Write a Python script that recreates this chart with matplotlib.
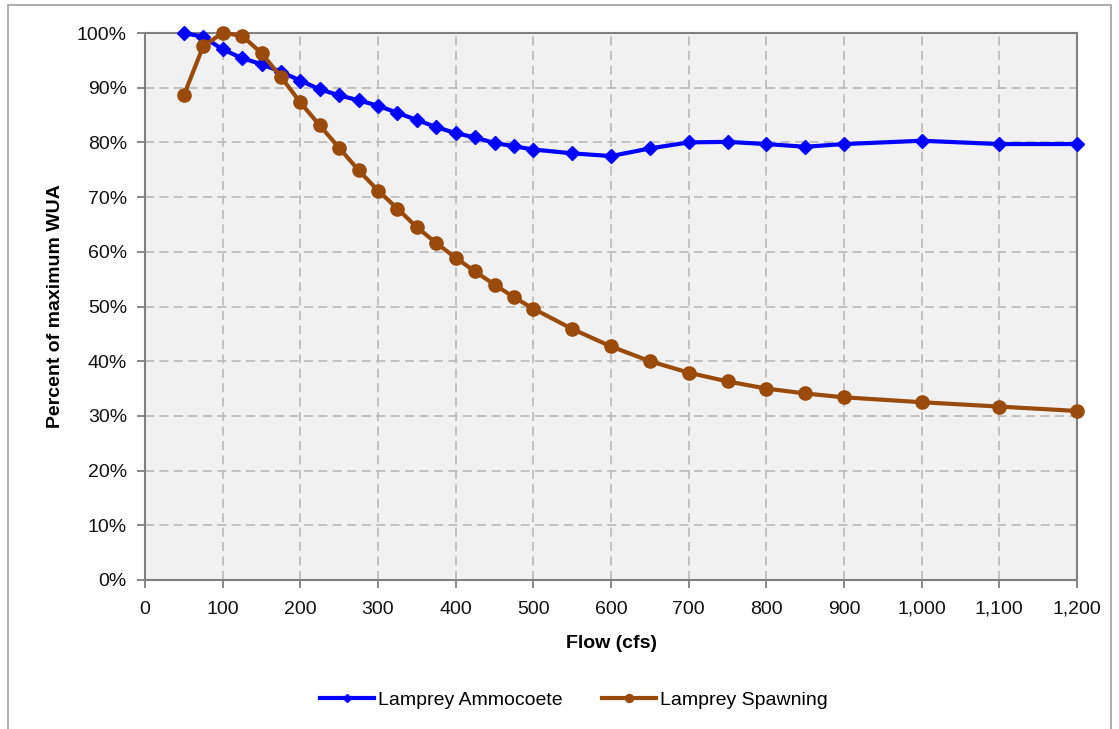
import matplotlib
matplotlib.use("Agg")
import matplotlib.pyplot as plt
from matplotlib.ticker import FuncFormatter, MultipleLocator
from matplotlib.patches import Rectangle

plt.rcParams['font.family'] = ['Liberation Sans', 'DejaVu Sans']

flow = [50, 75, 100, 125, 150, 175, 200, 225, 250, 275, 300, 325, 350, 375, 400,
        425, 450, 475, 500, 550, 600, 650, 700, 750, 800, 850, 900, 1000, 1100, 1200]
ammocoete = [100.0, 99.3, 97.0, 95.4, 94.3, 92.9, 91.3, 89.7, 88.6, 87.7, 86.7, 85.4,
             84.1, 82.8, 81.7, 80.9, 79.9, 79.3, 78.7, 78.0, 77.5, 78.9, 80.0, 80.1,
             79.7, 79.2, 79.7, 80.3, 79.7, 79.7]
spawning = [88.6, 97.6, 100.0, 99.5, 96.3, 92.0, 87.3, 83.1, 79.0, 74.9, 71.2, 67.9,
            64.5, 61.6, 58.9, 56.4, 54.0, 51.7, 49.6, 45.9, 42.7, 40.0, 37.9, 36.3,
            35.0, 34.1, 33.4, 32.5, 31.7, 30.9]

fig = plt.figure(figsize=(11.19, 7.29), dpi=100)
ax = fig.add_axes([145 / 1119, 1 - 580 / 729, (1077 - 145) / 1119, (580 - 33) / 729])
ax.set_facecolor('#f1f1f1')

# outer chart border
fig.patches.append(Rectangle((8 / 1119, -0.01), (1111 - 8) / 1119, 1 - 5 / 729 + 0.01,
                             transform=fig.transFigure, fill=False,
                             edgecolor='#a0a0a0', linewidth=1.2))

ax.plot(flow, ammocoete, color='#0000ff', linewidth=3, marker='D', markersize=7,
        label='Lamprey Ammocoete', zorder=3, clip_on=False)
ax.plot(flow, spawning, color='#9a4a0a', linewidth=3, marker='o', markersize=9.5,
        label='Lamprey Spawning', zorder=3, clip_on=False)

ax.set_xlim(0, 1200)
ax.set_ylim(0, 100)
ax.xaxis.set_major_locator(MultipleLocator(100))
ax.yaxis.set_major_locator(MultipleLocator(10))
ax.xaxis.set_major_formatter(FuncFormatter(lambda v, p: "{:,.0f}".format(v)))
ax.yaxis.set_major_formatter(FuncFormatter(lambda v, p: "{:.0f}%".format(v)))

ax.grid(True, color='#bdbdbd', linestyle=(0, (5, 3)), linewidth=1.3)
ax.set_axisbelow(True)
for sp in ax.spines.values():
    sp.set_color('#808080')
    sp.set_linewidth(1.5)
ax.tick_params(axis='both', direction='out', length=6, color='#808080', width=1.3,
               labelsize=14, labelcolor='#111111', pad=7)
ax.tick_params(axis='x', pad=9)

ax.set_xlabel('Flow (cfs)', fontsize=14, fontweight='bold', labelpad=12)
ax.set_ylabel('Percent of maximum WUA', fontsize=14, fontweight='bold', labelpad=9)

fig.legend(loc='center', bbox_to_anchor=(574 / 1119, 1 - 700 / 729), ncol=2,
           frameon=False, fontsize=14, handlelength=2.8, columnspacing=2.0,
           handletextpad=0.2, markerscale=0.6)

fig.savefig('out.png', dpi=100)
